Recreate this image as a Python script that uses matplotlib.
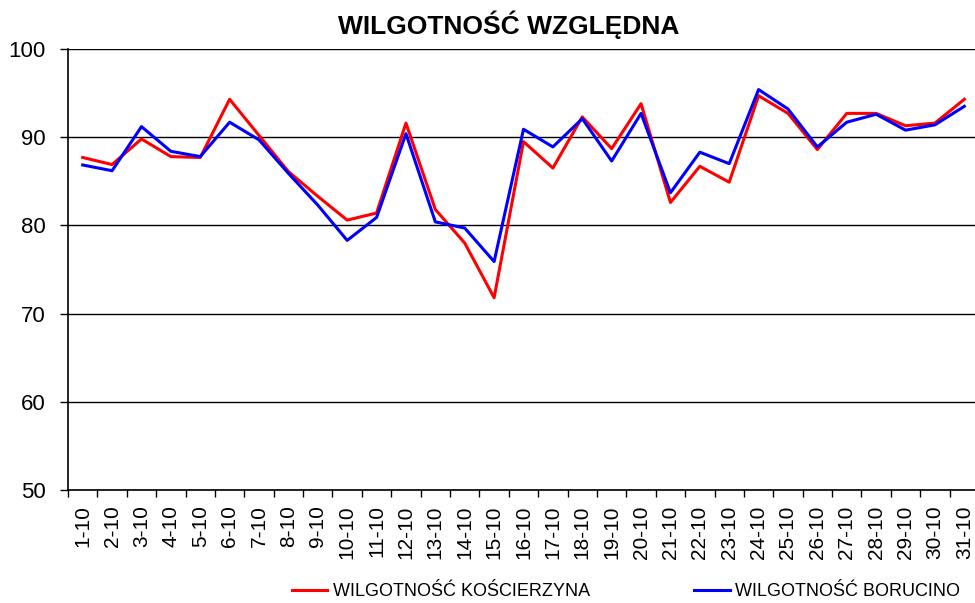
import matplotlib
matplotlib.use("Agg")
import matplotlib.pyplot as plt

plt.rcParams['font.family'] = ['Liberation Sans', 'DejaVu Sans']

days = [f"{d}-10" for d in range(1, 32)]
koscierzyna = [87.7, 86.9, 89.8, 87.8, 87.7, 94.3, 90.2, 86.1, 83.3, 80.6,
               81.4, 91.6, 81.8, 78.0, 71.8, 89.5, 86.5, 92.3, 88.7, 93.8,
               82.6, 86.7, 84.9, 94.7, 92.7, 88.6, 92.7, 92.7, 91.3, 91.6, 94.3]
borucino = [86.85, 86.2, 91.2, 88.4, 87.8, 91.7, 89.7, 85.9, 82.3, 78.3,
            80.9, 90.4, 80.4, 79.7, 75.9, 90.9, 88.9, 92.1, 87.3, 92.7,
            83.7, 88.3, 87.0, 95.4, 93.2, 88.9, 91.7, 92.6, 90.8, 91.4, 93.5]
yticks = [50, 60, 70, 80, 90, 100]

fig = plt.figure(figsize=(9.75, 6.03), dpi=100)
ax = fig.add_axes([68/975, 1-490/603, 911/975, 441/603])

x = list(range(len(days)))
ax.plot(x, koscierzyna, color='#FF0000', lw=2.2, label='WILGOTNOŚĆ KOŚCIERZYNA', zorder=3)
ax.plot(x, borucino, color='#0000FF', lw=2.2, label='WILGOTNOŚĆ BORUCINO', zorder=3)

ax.set_xlim(-0.5, len(days) - 0.5)
ax.set_ylim(50, 100)
ax.set_yticks(yticks)
ax.set_yticklabels([str(v) for v in yticks], fontsize=16)
ax.yaxis.grid(True, color='black', lw=1)
ax.set_axisbelow(True)

ax.set_xticks(x)
ax.set_xticklabels(days, rotation=90, fontsize=15)
ax.tick_params(axis='x', which='major', length=0, pad=11)
ax.set_xticks([i - 0.5 for i in range(len(days) + 1)], minor=True)
ax.tick_params(axis='x', which='minor', length=5, width=1, color='black', direction='out')
ax.tick_params(axis='y', length=6, width=1, color='black', direction='out', pad=10)

for s in ['top', 'right']:
    ax.spines[s].set_visible(False)
ax.spines['left'].set_color('black')
ax.spines['bottom'].set_color('black')
ax.spines['left'].set_linewidth(1.2)
ax.spines['bottom'].set_linewidth(1.2)

fig.text(508.5/975, 1-25/603, 'WILGOTNOŚĆ WZGLĘDNA', ha='center', va='center',
         fontsize=19, fontweight='bold')

fig.legend(loc='center', bbox_to_anchor=(626/975, 1-592/603), ncol=2, frameon=False,
           fontsize=13, handlelength=1.95, handletextpad=0.3, columnspacing=5.8)

fig.savefig('out.png', dpi=100)
